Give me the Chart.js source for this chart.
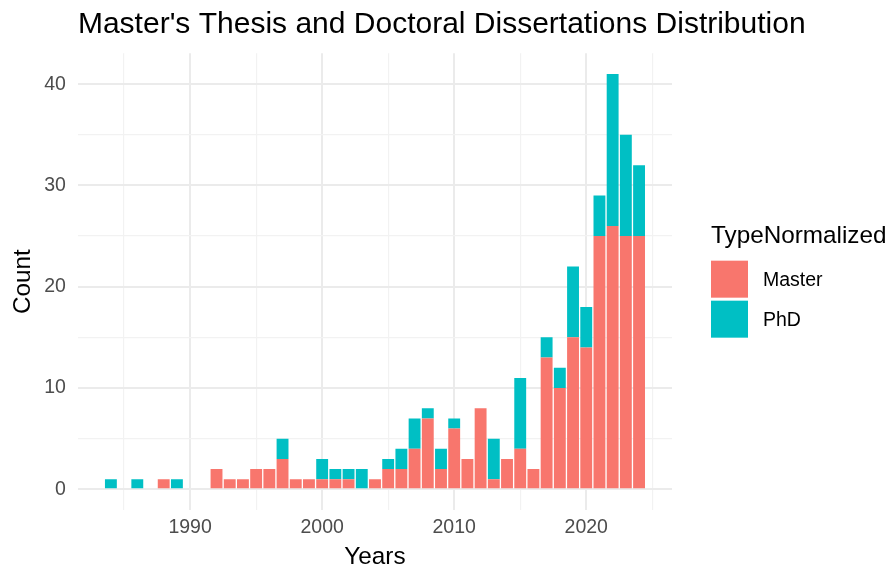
<!DOCTYPE html>
<html>
<head>
<meta charset="utf-8">
<script src="https://cdn.jsdelivr.net/npm/chart.js@4/dist/chart.umd.min.js"></script>
<style>
  html, body { margin: 0; padding: 0; background: #ffffff; }
  #wrap { width: 894px; height: 567px; }
</style>
</head>
<body>
<div id="wrap"><canvas id="c" width="894" height="567"></canvas></div>
<script>
// ---- data ----
const years  = [1984,1985,1986,1987,1988,1989,1990,1991,1992,1993,1994,1995,1996,1997,1998,1999,
                2000,2001,2002,2003,2004,2005,2006,2007,2008,2009,2010,2011,2012,2013,2014,2015,
                2016,2017,2018,2019,2020,2021,2022,2023,2024];
const master = [0,0,0,0,1,0,0,0,2,1,1,2,2,3,1,1,
                1,1,1,0,1,2,2,4,7,2,6,3,8,1,3,4,
                2,13,10,15,14,25,26,25,25];
const phd    = [1,0,1,0,0,1,0,0,0,0,0,0,0,2,0,0,
                2,1,1,2,0,1,2,3,1,2,1,0,0,4,0,7,
                0,2,2,7,4,4,15,10,7];
const seriesNames = ['Master', 'PhD'];
const xTicks = [1985,1990,1995,2000,2005,2010,2015,2020,2025];
const yTicks = [0,5,10,15,20,25,30,35,40];
const chartTitle = "Master's Thesis and Doctoral Dissertations Distribution";
const legendTitle = 'TypeNormalized';

const FONT = "'Liberation Sans', Arial, Helvetica, sans-serif";
const COLORS = ['#F8766D', '#00BFC4'];

// ggplot-style title (may extend past the panel) and legend on the right
const decorPlugin = {
  id: 'ggDecor',
  afterDraw(chart) {
    const ctx = chart.ctx;
    const ca = chart.chartArea;
    const ds = chart.data.datasets;
    ctx.save();
    // title
    ctx.fillStyle = '#000000';
    ctx.textAlign = 'left';
    ctx.textBaseline = 'alphabetic';
    ctx.font = '30px ' + FONT;
    ctx.fillText(chartTitle, ca.left, ca.top - 20);
    // legend
    const x0 = ca.right + 39;
    const key = 37, step = 40;
    const titleH = 30;
    const blockH = titleH + step * ds.length;
    const top = (ca.top + ca.bottom) / 2 - blockH / 2;
    ctx.textBaseline = 'middle';
    ctx.font = '24.3px ' + FONT;
    ctx.fillText(legendTitle, x0, top + 10);
    ds.forEach((d, i) => {
      const y = top + titleH + 4 + i * step;
      ctx.fillStyle = d.backgroundColor;
      ctx.fillRect(x0, y, key, key);
      ctx.fillStyle = '#000000';
      ctx.font = '19.5px ' + FONT;
      ctx.fillText(d.label, x0 + key + 15, y + key / 2 + 1);
    });
    ctx.restore();
  }
};

new Chart(document.getElementById('c'), {
  type: 'bar',
  data: {
    datasets: [
      { label: seriesNames[0], data: years.map((y, i) => ({ x: y, y: master[i] })),
        backgroundColor: COLORS[0], borderWidth: 0 },
      { label: seriesNames[1], data: years.map((y, i) => ({ x: y, y: phd[i] })),
        backgroundColor: COLORS[1], borderWidth: 0 }
    ]
  },
  options: {
    responsive: false,
    animation: false,
    devicePixelRatio: 1,
    categoryPercentage: 1.0,
    barPercentage: 0.9,
    layout: { padding: { left: 4, right: 222, top: 53.3, bottom: 0 } },
    plugins: {
      legend: { display: false },
      tooltip: { enabled: false },
      title: { display: false }
    },
    scales: {
      x: {
        type: 'linear',
        stacked: true,
        offset: false,
        min: 1981.505,
        max: 2026.495,
        afterBuildTicks: (axis) => { axis.ticks = xTicks.map(v => ({ value: v })); },
        ticks: {
          autoSkip: false,
          maxRotation: 0,
          padding: 8,
          color: '#4D4D4D',
          font: { family: FONT, size: 19.5, lineHeight: 1.0 },
          callback: (v) => (v % 10 === 0 ? String(v) : '')
        },
        grid: {
          offset: false,
          drawTicks: false,
          color: (c) => (c.tick && c.tick.value % 10 === 0 ? '#EBEBEB' : '#F2F2F2'),
          lineWidth: (c) => (c.tick && c.tick.value % 10 === 0 ? 2 : 1.2)
        },
        border: { display: false },
        title: {
          display: true, text: 'Years', color: '#000000',
          font: { family: FONT, size: 24.3 },
          padding: { top: -2.7, bottom: -5 }
        }
      },
      y: {
        stacked: true,
        min: -2.05,
        max: 43.05,
        afterBuildTicks: (axis) => { axis.ticks = yTicks.map(v => ({ value: v })); },
        ticks: {
          padding: 12,
          color: '#4D4D4D',
          font: { family: FONT, size: 19.5 },
          callback: (v) => (v % 10 === 0 ? String(v) : '')
        },
        grid: {
          drawTicks: false,
          color: (c) => (c.tick && c.tick.value % 10 === 0 ? '#EBEBEB' : '#F2F2F2'),
          lineWidth: (c) => (c.tick && c.tick.value % 10 === 0 ? 2 : 1.2)
        },
        border: { display: false },
        title: {
          display: true, text: 'Count', color: '#000000',
          font: { family: FONT, size: 24.3 },
          padding: { top: 4.4, bottom: -5.3 }
        }
      }
    }
  },
  plugins: [decorPlugin]
});
</script>
</body>
</html>
